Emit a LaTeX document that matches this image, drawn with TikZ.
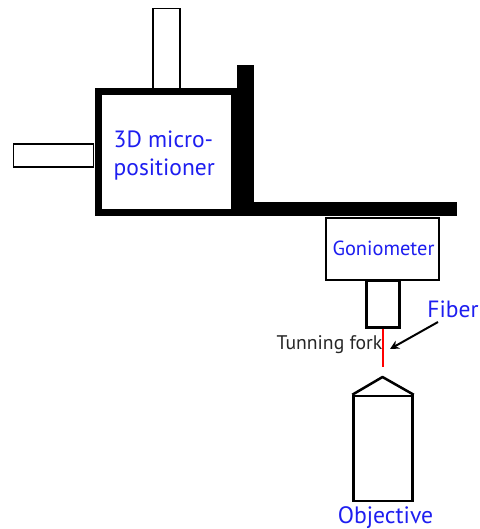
\documentclass[tikz,border=0pt]{standalone}
\usepackage{fontspec}
\setmainfont{PT Sans}
\usetikzlibrary{arrows.meta}
\definecolor{labelblue}{RGB}{30,30,240}
\tikzstyle{armbox} = [draw=black, fill=white, line width=1.7pt, rectangle, inner sep=0pt]
\tikzstyle{thickbox} = [draw=black, fill=white, line width=3pt, rectangle, inner sep=0pt]
\tikzstyle{solidbar} = [draw=none, fill=black, rectangle, inner sep=0pt]
\tikzstyle{bluelabel} = [text=labelblue, inner sep=0pt, align=left]
\begin{document}
\begin{tikzpicture}[x=1pt,y=-1pt]
\useasboundingbox (0,0) rectangle (479,529);
% positioner and its two arms
\node[armbox, minimum width=26.5pt, minimum height=80pt] (armtop) at (166.5,48.5) {};
\node[armbox, minimum width=80pt, minimum height=23.5pt] (armleft) at (53.5,155.5) {};
\node[draw=black, fill=white, line width=7pt, inner sep=0pt, minimum width=135.5pt, minimum height=120.5pt] (positioner) at (166.5,151.75) {};
\node[bluelabel, font=\fontsize{23.5}{28}\selectfont, anchor=west] (positionerlabel) at (113.5,155.5) {3D micro-\\positioner};
% post and plate
\node[solidbar, minimum width=17pt, minimum height=151pt] (post) at (245,140.5) {};
\node[solidbar, minimum width=203pt, minimum height=14pt] (plate) at (355.5,209) {};
% goniometer
\node[armbox, minimum width=113pt, minimum height=62pt] (goniometer) at (382.5,249) {};
\node[bluelabel, font=\fontsize{20.4}{24}\selectfont] (goniometerlabel) at (383.5,248) {Goniometer};
\node[thickbox, minimum width=33pt, minimum height=47pt] (holder) at (382.5,303.5) {};
% objective
\node[thickbox, line width=2.5pt, minimum width=59pt, minimum height=105pt] (objective) at (383,448.5) {};
\draw[line width=2.5pt, line join=round] (objective.north west) -- (382.5,377) -- (objective.north east);
\node[bluelabel, font=\fontsize{23.7}{28}\selectfont] (objectivelabel) at (385.5,518) {Objective};
% fiber
\coordinate (fiberend) at (382.5,367);
\coordinate (fibertip) at (390,349);
\draw[red, line width=2pt] (holder.south) -- (fiberend);
\node[inner sep=0pt, font=\fontsize{19.7}{24}\selectfont, text=black!85] (forklabel) at (329.5,345) {Tunning fork};
\node[bluelabel, font=\fontsize{23.5}{28}\selectfont] (fiberlabel) at (453,309.5) {Fiber};
\draw[-{Stealth[length=9pt,width=9pt]}, line width=2pt] (438,322) -- (fibertip);
\end{tikzpicture}
\end{document}
